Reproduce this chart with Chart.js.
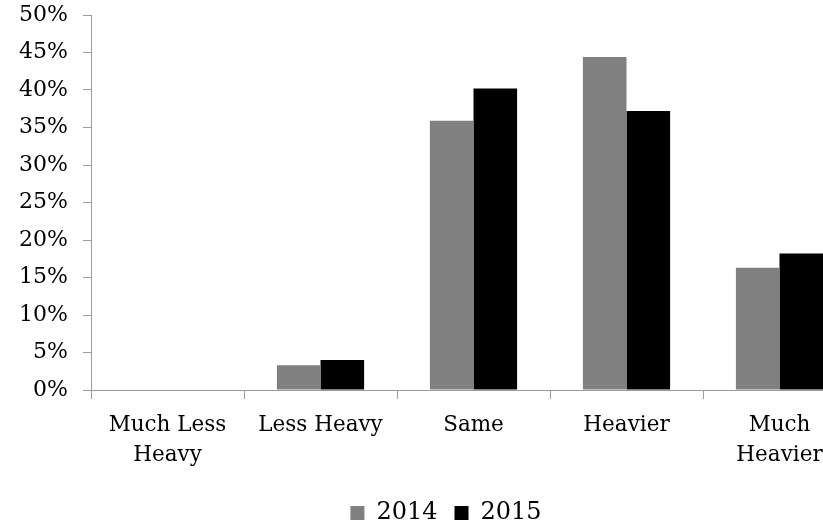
<!DOCTYPE html>
<html>
<head>
<meta charset="utf-8">
<script src="https://cdn.jsdelivr.net/npm/chart.js@4/dist/chart.umd.min.js"></script>
<style>
  html, body { margin: 0; padding: 0; background: #fff; width: 823px; height: 522px; overflow: hidden; }
  #wrap { position: absolute; left: 0; top: 0; width: 892px; height: 535px; }
</style>
</head>
<body>
<div id="wrap"><canvas id="chart"></canvas></div>
<script>
// Survey answers: how heavy the load was compared with the previous year
const categories = [["Much Less", "Heavy"], "Less Heavy", "Same", "Heavier", ["Much", "Heavier"]];
const seriesNames = ["2014", "2015"];
const values2014 = [0, 3.3, 35.9, 44.4, 16.3];
const values2015 = [0, 4.0, 40.2, 37.2, 18.2];
const yTickValues = [0, 5, 10, 15, 20, 25, 30, 35, 40, 45, 50];

const serif = "'DejaVu Serif', 'Liberation Serif', serif";
const axisGray = "#9c9c9c";

// Centre the legend on the whole figure width rather than on the padded layout box
const legendShift = {
  id: "legendShift",
  afterLayout(chart) {
    const lg = chart.legend;
    if (lg) { lg.left += 18; lg.right += 18; }
  }
};

new Chart(document.getElementById("chart"), {
  type: "bar",
  data: {
    labels: categories,
    datasets: [
      { label: seriesNames[0], data: values2014, backgroundColor: "#808080", borderWidth: 0 },
      { label: seriesNames[1], data: values2015, backgroundColor: "#000000", borderWidth: 0 }
    ]
  },
  plugins: [legendShift],
  options: {
    responsive: true,
    maintainAspectRatio: false,
    animation: false,
    devicePixelRatio: 1,
    layout: { padding: { left: 0, right: 36, top: 15, bottom: 0 } },
    datasets: { bar: { categoryPercentage: 0.57, barPercentage: 1.0 } },
    plugins: {
      tooltip: { enabled: false },
      legend: {
        position: "bottom",
        labels: {
          boxWidth: 14,
          boxHeight: 14,
          padding: 17,
          color: "#000",
          font: { family: serif, size: 24 }
        }
      }
    },
    scales: {
      x: {
        grid: { display: true, drawOnChartArea: false, drawTicks: true, tickLength: 9, color: axisGray, offset: true },
        border: { display: true, color: axisGray, width: 1 },
        ticks: {
          autoSkip: false,
          maxRotation: 0,
          minRotation: 0,
          padding: 11,
          color: "#000",
          font: { family: serif, size: 21.5, lineHeight: 1.4 }
        },
        afterFit: (scale) => { scale.height = 94; }
      },
      y: {
        min: 0,
        max: 50,
        afterBuildTicks: (scale) => { scale.ticks = yTickValues.map(v => ({ value: v })); },
        grid: { display: true, drawOnChartArea: false, drawTicks: true, tickLength: 8, color: axisGray },
        border: { display: true, color: axisGray, width: 1 },
        ticks: {
          padding: 15,
          color: "#000",
          font: { family: serif, size: 22 },
          callback: (v) => v + "%"
        },
        afterFit: (scale) => {
          scale.width = 91;
          scale.paddingTop = 0;
          scale.paddingBottom = 0;
        }
      }
    }
  }
});
</script>
</body>
</html>
